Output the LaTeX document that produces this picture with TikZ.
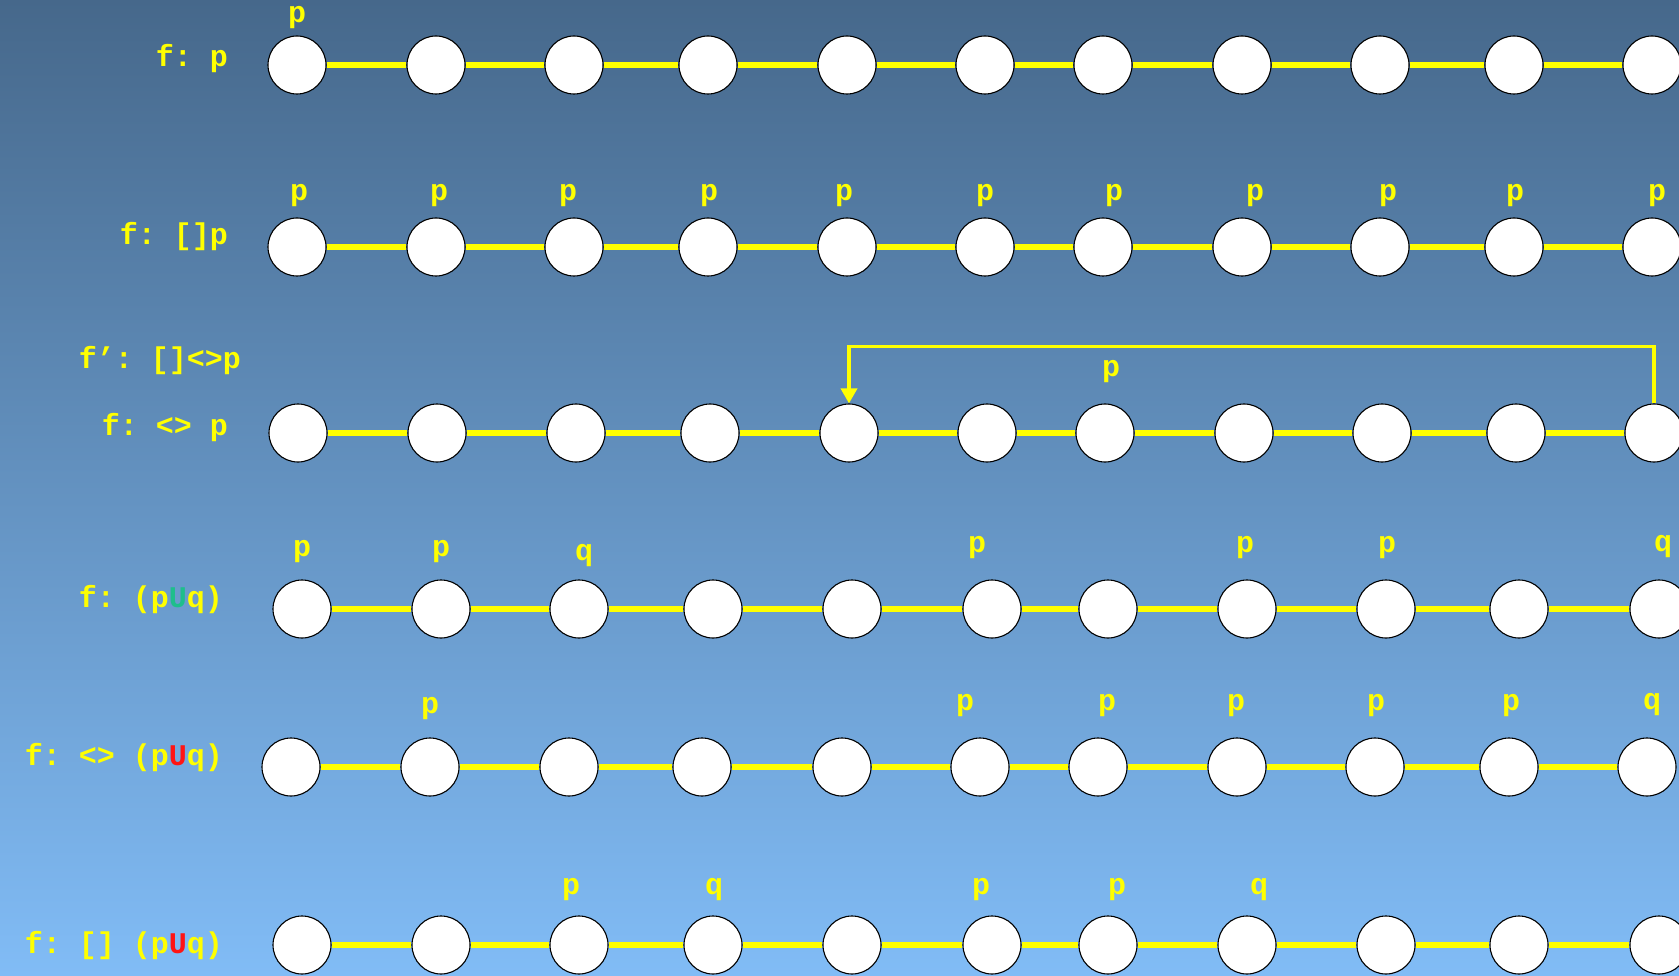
\documentclass[tikz,border=0pt]{standalone}
\usepackage{fontspec}
\setmonofont{Liberation Mono}
\usetikzlibrary{arrows.meta}
\definecolor{bgtop}{RGB}{70,104,139}
\definecolor{bgbot}{RGB}{129,188,246}
\definecolor{ylw}{RGB}{255,255,0}
\definecolor{ugreen}{RGB}{30,190,140}
\definecolor{ured}{RGB}{255,20,20}
\tikzset{
  st/.style={circle,draw=black,line width=1.1pt,fill=white,minimum size=58pt,inner sep=0pt},
  chain/.style={draw=ylw,line width=5.5pt},
  lab/.style={text=ylw,font=\ttfamily\bfseries\fontsize{30}{30}\selectfont,inner sep=0pt},
  rowlab/.style={lab,anchor=base east},
  loopline/.style={draw=ylw,line width=3.5pt,-{Triangle[width=16pt,length=15pt]}}
}
\begin{document}
\begin{tikzpicture}[x=1pt,y=-1pt]
\useasboundingbox (0,0) rectangle (1679,976);
\shade[top color=bgtop,bottom color=bgbot] (0,0) rectangle (1679,976);
% row positions
\def\xa{297,436,574,708,847,985,1103,1242,1380,1514,1652}
\def\xc{298,437,576,710,849,987,1105,1244,1382,1516,1654}
\def\xd{302,441,579,713,852,992,1108,1247,1386,1519,1659}
\def\xe{291,430,569,702,842,980,1098,1237,1375,1509,1647}
\foreach \x [count=\i] in \xa {\node[st] (a\i) at (\x,65) {};}
\foreach \x [count=\i] in \xa {\node[st] (b\i) at (\x,247) {};}
\foreach \x [count=\i] in \xc {\node[st] (c\i) at (\x,433) {};}
\foreach \x [count=\i] in \xd {\node[st] (d\i) at (\x,609) {};}
\foreach \x [count=\i] in \xe {\node[st] (e\i) at (\x,767) {};}
\foreach \x [count=\i] in \xd {\node[st] (g\i) at (\x,945) {};}
\foreach \r in {a,b,c,d,e,g}{
  \foreach \i [evaluate=\i as \j using int(\i+1)] in {1,...,10}{
    \draw[chain] (\r\i) -- (\r\j);
  }
}
% row labels
\node[rowlab] (la) at (228,67) {f: p};
\node[rowlab] (lb) at (228,245) {f: []p};
\node[rowlab] (lc1) at (241,369) {f’: []<>p};
\node[rowlab] (lc2) at (228,435) {f: <> p};
\node[rowlab] (ld) at (223,607) {f: (p\textcolor{ugreen}{U}q)};
\node[rowlab] (le) at (223,765) {f: <> (p\textcolor{ured}{U}q)};
\node[rowlab] (lg) at (223,953) {f: [] (p\textcolor{ured}{U}q)};
% row 1
\node[lab] (pa1) at (297,18) {p};
% row 2
\foreach \x [count=\i] in {299,439,568,709,844,985,1114,1255,1388,1515,1657}
  {\node[lab] (pb\i) at (\x,196) {p};}
% row 3
\node[lab] (pc) at (1111,372) {p};
\draw[loopline] (c11.north) -- ++(0,-57) -| (c5.north);
% row 4
\node[lab] (pd1) at (302,552) {p};
\node[lab] (pd2) at (441,552) {p};
\node[lab] (pd3) at (584,556) {q};
\node[lab] (pd6) at (977,548) {p};
\node[lab] (pd8) at (1245,548) {p};
\node[lab] (pd9) at (1387,548) {p};
\node[lab] (pd11) at (1663,547) {q};
% row 5
\node[lab] (pe2) at (430,709) {p};
\node[lab] (pe6) at (965,706) {p};
\node[lab] (pe7) at (1107,706) {p};
\node[lab] (pe8) at (1236,706) {p};
\node[lab] (pe9) at (1376,706) {p};
\node[lab] (pe10) at (1511,706) {p};
\node[lab] (pe11) at (1652,705) {q};
% row 6
\node[lab] (pg3) at (571,890) {p};
\node[lab] (pg4) at (714,890) {q};
\node[lab] (pg6) at (981,890) {p};
\node[lab] (pg7) at (1117,890) {p};
\node[lab] (pg8) at (1259,890) {q};
\end{tikzpicture}
\end{document}
